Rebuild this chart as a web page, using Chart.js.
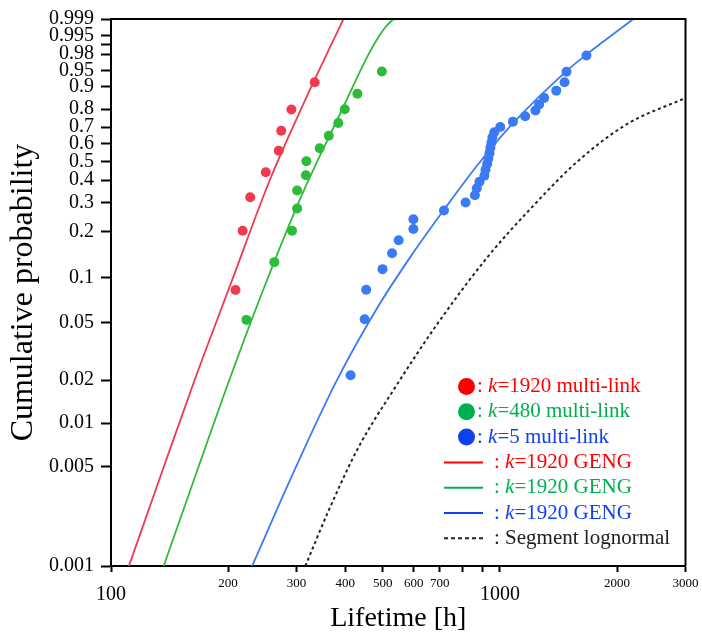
<!DOCTYPE html>
<html>
<head>
<meta charset="utf-8">
<title>Cumulative probability vs lifetime</title>
<style>
    html, body { margin: 0; padding: 0; background: #fff; }
    #wrap { width: 702px; height: 634px; }
</style>
<script src="https://cdn.jsdelivr.net/npm/chart.js"></script>
</head>
<body>
<div id="wrap"><canvas id="probChart" width="702" height="634"></canvas></div>
<script>
    // axis ticks
    const xTickValues = [100, 200, 300, 400, 500, 600, 700, 800, 900, 1000, 2000, 3000];
    const xTickLabels = ['100', '200', '300', '400', '500', '600', '700', '', '', '1000', '2000', '3000'];
    const yTickValues = [0.001, 0.005, 0.01, 0.02, 0.05, 0.1, 0.2, 0.3, 0.4, 0.5, 0.6, 0.7, 0.8, 0.9, 0.95, 0.98, 0.99, 0.995, 0.999];
    const yTickLabels = ['0.001', '0.005', '0.01', '0.02', '0.05', '0.1', '0.2', '0.3', '0.4', '0.5', '0.6', '0.7', '0.8', '0.9', '0.95', '0.98', '', '0.995', '0.999'];

    // k=1920 multi-link
    const redLife = [209, 218, 228, 250, 270, 274, 291, 334];
    const redProb = [0.083, 0.202, 0.321, 0.440, 0.560, 0.679, 0.798, 0.917];

    // k=480 multi-link
    const greenLife = [223, 263, 292, 301, 301, 317, 318, 344, 363, 384, 399, 430, 497];
    const greenProb = [0.052, 0.127, 0.202, 0.276, 0.351, 0.425, 0.500, 0.575, 0.649, 0.724, 0.799, 0.873, 0.948];

    // k=5 multi-link
    const blueLife = [413, 449, 453, 499, 528, 549, 599, 599, 718, 816, 862, 872, 886, 912, 918, 927,
                      934, 940, 945, 951, 956, 967, 1002, 1080, 1161, 1234, 1261, 1299, 1396, 1466, 1483, 1669];
    const blueProb = [0.0216, 0.0525, 0.0833, 0.1142, 0.1451, 0.1759, 0.2068, 0.2377, 0.2685, 0.2994, 0.3302,
                      0.3611, 0.3920, 0.4228, 0.4537, 0.4846, 0.5154, 0.5463, 0.5772, 0.6080, 0.6389, 0.6698,
                      0.7006, 0.7315, 0.7623, 0.7932, 0.8241, 0.8549, 0.8858, 0.9167, 0.9475, 0.9784];

    // GENG fit curves
    const redFitLife = [111.2, 135, 164, 204, 255, 290, 332, 396];
    const redFitProb = [0.001, 0.0045, 0.01995, 0.0939, 0.392, 0.673, 0.9188, 0.999];
    const greenFitLife = [136.6, 166, 201.4, 249, 309.6, 389.4, 459, 490, 510.5, 532];
    const greenFitProb = [0.001, 0.00454, 0.01995, 0.0896, 0.3317, 0.7814, 0.9795, 0.99495, 0.9979, 0.999];
    const blueFitLife = [230.6, 297, 381, 487, 591, 718, 877, 1078, 1483, 1669, 2203];
    const blueFitProb = [0.001, 0.00476, 0.01995, 0.0646, 0.1395, 0.2712, 0.4806, 0.7198, 0.949, 0.9795, 0.999];

    // segment lognormal
    const lognLife = [316, 363, 433, 538, 693, 930, 1213, 1580, 2121, 3000];
    const lognProb = [0.001, 0.00246, 0.0068, 0.0178, 0.0495, 0.1374, 0.2835, 0.4974, 0.717, 0.8547];

    const serif = "'Liberation Serif', 'Times New Roman', serif";

    // weibull probability paper: y = ln(-ln(1-F))
    function weib(p) {
        return Math.log(-Math.log(1 - p));
    }

    function toPoints(life, prob) {
        return life.map((x, i) => ({ x: x, y: weib(prob[i]) }));
    }

    function dots(label, life, prob, color) {
        return {
            label: label,
            data: toPoints(life, prob),
            showLine: false,
            pointRadius: 5,
            pointBorderWidth: 0,
            pointBackgroundColor: color,
            borderColor: color
        };
    }

    function curve(label, life, prob, color, dash) {
        return {
            label: label,
            data: toPoints(life, prob),
            showLine: true,
            pointRadius: 0,
            borderColor: color,
            borderWidth: dash ? 2 : 1.8,
            borderDash: dash || [],
            cubicInterpolationMode: 'monotone',
            clip: 0
        };
    }

    // legend drawn by hand so the k can be italic
    const legendRows = [
        { mark: 'dot', color: '#ff0000', text: '=1920 multi-link' },
        { mark: 'dot', color: '#00b050', text: '=480 multi-link' },
        { mark: 'dot', color: '#1040f0', text: '=5 multi-link' },
        { mark: 'line', color: '#ff0000', text: '=1920 GENG' },
        { mark: 'line', color: '#00b050', text: '=1920 GENG' },
        { mark: 'line', color: '#1040f0', text: '=1920 GENG' },
        { mark: 'dash', color: '#222222', text: 'Segment lognormal' }
    ];

    const legendPlugin = {
        id: 'handLegend',
        afterDraw(chart) {
            const ctx = chart.ctx;
            ctx.save();
            ctx.textBaseline = 'middle';
            ctx.textAlign = 'left';
            legendRows.forEach((row, i) => {
                const y = 386.5 + i * 25.3;
                let x;
                if (row.mark === 'dot') {
                    ctx.fillStyle = row.color;
                    ctx.beginPath();
                    ctx.arc(466.5, y, 8.5, 0, Math.PI * 2);
                    ctx.fill();
                    x = 477;
                } else {
                    ctx.strokeStyle = row.color;
                    ctx.lineWidth = 2;
                    ctx.setLineDash(row.mark === 'dash' ? [4, 3] : []);
                    ctx.beginPath();
                    ctx.moveTo(444, y);
                    ctx.lineTo(483, y);
                    ctx.stroke();
                    ctx.setLineDash([]);
                    x = 494;
                }
                ctx.fillStyle = row.color;
                ctx.font = '21px ' + serif;
                ctx.fillText(': ', x, y);
                x += ctx.measureText(': ').width;
                if (row.mark !== 'dash') {
                    ctx.font = 'italic 21px ' + serif;
                    ctx.fillText('k', x, y);
                    x += ctx.measureText('k').width;
                    ctx.font = '21px ' + serif;
                }
                ctx.fillText(row.text, x, y);
            });
            ctx.restore();
        }
    };

    // top and right frame lines
    const framePlugin = {
        id: 'frame',
        afterDraw(chart) {
            const a = chart.chartArea;
            const ctx = chart.ctx;
            ctx.save();
            ctx.strokeStyle = '#000';
            ctx.lineWidth = 2;
            ctx.beginPath();
            ctx.moveTo(a.left, a.top);
            ctx.lineTo(a.right, a.top);
            ctx.lineTo(a.right, a.bottom);
            ctx.stroke();
            ctx.restore();
        }
    };

    const ctx = document.getElementById('probChart').getContext('2d');
    new Chart(ctx, {
        type: 'scatter',
        data: {
            datasets: [
                dots('k=1920 multi-link', redLife, redProb, '#ef3a4f'),
                dots('k=480 multi-link', greenLife, greenProb, '#2cbc3a'),
                dots('k=5 multi-link', blueLife, blueProb, '#3a7bf5'),
                curve('k=1920 GENG (red)', redFitLife, redFitProb, '#ef3a4f'),
                curve('k=1920 GENG (green)', greenFitLife, greenFitProb, '#2cbc3a'),
                curve('k=1920 GENG (blue)', blueFitLife, blueFitProb, '#3a7bf5'),
                curve('Segment lognormal', lognLife, lognProb, '#222222', [3, 3])
            ]
        },
        options: {
            responsive: false,
            animation: false,
            events: [],
            layout: { padding: { top: 19, right: 13, left: 0, bottom: 0 } },
            plugins: {
                legend: { display: false },
                tooltip: { enabled: false }
            },
            scales: {
                x: {
                    type: 'logarithmic',
                    min: 100,
                    max: 3000,
                    afterBuildTicks: s => { s.ticks = xTickValues.map(v => ({ value: v })); },
                    afterFit: s => { s.height = 68; },
                    ticks: {
                        autoSkip: false,
                        maxRotation: 0,
                        padding: 3.5,
                        color: '#000',
                        font: c => {
                            const v = c.tick ? c.tick.value : 0;
                            return (v === 100 || v === 1000)
                                ? { family: serif, size: 20, lineHeight: 1.9 }
                                : { family: serif, size: 13, lineHeight: 1.2 };
                        },
                        callback: (v, i) => xTickLabels[i]
                    },
                    grid: { drawOnChartArea: false, tickLength: 6, tickWidth: 2, tickColor: '#000' },
                    border: { color: '#000', width: 2 },
                    title: {
                        display: true,
                        text: 'Lifetime [h]',
                        color: '#000',
                        font: { family: serif, size: 28, lineHeight: 1 },
                        padding: { top: 0, bottom: 1 }
                    }
                },
                y: {
                    type: 'linear',
                    min: weib(0.001),
                    max: weib(0.999),
                    afterBuildTicks: s => { s.ticks = yTickValues.map(p => ({ value: weib(p) })); },
                    afterFit: s => { s.width = 111; },
                    ticks: {
                        autoSkip: false,
                        padding: 7,
                        color: '#000',
                        font: { family: serif, size: 20, lineHeight: 1 },
                        callback: (v, i) => yTickLabels[i]
                    },
                    grid: { drawOnChartArea: false, tickLength: 10, tickWidth: 2, tickColor: '#000' },
                    border: { color: '#000', width: 2 },
                    title: {
                        display: true,
                        text: 'Cumulative probability',
                        color: '#000',
                        font: { family: serif, size: 32, lineHeight: 1 },
                        padding: { top: 7.5, bottom: 0 }
                    }
                }
            }
        },
        plugins: [legendPlugin, framePlugin]
    });
</script>
</body>
</html>
